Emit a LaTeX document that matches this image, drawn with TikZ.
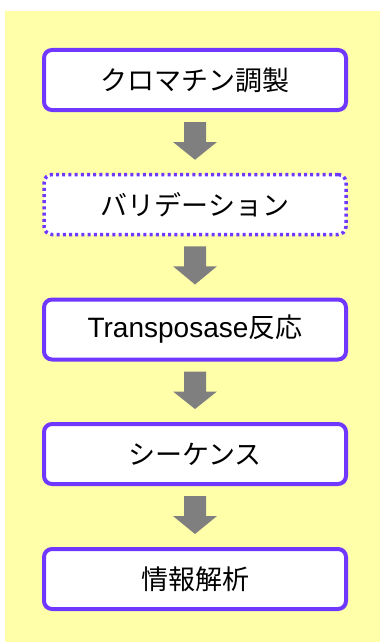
\documentclass[tikz,border=0pt]{standalone}
\usepackage{fontspec}
\setmainfont{Noto Sans CJK JP}
\newfontfamily\latinfont{Liberation Sans}
\usetikzlibrary{calc}
\definecolor{bgyellow}{RGB}{255,255,170}
\definecolor{boxpurple}{RGB}{112,56,255}
\definecolor{arrowgray}{RGB}{127,127,127}
\tikzset{
  stepbox/.style={draw=boxpurple, fill=white, line width=4pt, rounded corners=8pt,
    minimum width=302pt, minimum height=60pt, inner sep=0pt,
    font=\fontsize{27}{32}\selectfont, text=black},
  dotbox/.style={stepbox, line width=3.5pt, dash pattern=on 3pt off 3.2pt},
  blockarrow/.style={fill=arrowgray, draw=none}
}
\newcommand{\flowarrow}[2]{%
  \fill[blockarrow] ($(#1.south)+(-11,10)$) -- ($(#1.south)+(11,10)$)
    -- ($(#1.south)+(11,30)$) -- ($(#1.south)+(22,30)$)
    -- ($(#2.north)+(0,-13)$) -- ($(#1.south)+(-22,30)$)
    -- ($(#1.south)+(-11,30)$) -- cycle;}
\begin{document}
\begin{tikzpicture}[x=1pt,y=-1pt]
\useasboundingbox (0,0) rectangle (380,642);
\fill[bgyellow] (5,11) rectangle (380,642);
\node[stepbox] (n1) at (195,80) {クロマチン調製};
\node[dotbox] (n2) at (195,204.5) {バリデーション};
\node[stepbox] (n3) at (195,329.5) {{\latinfont\fontsize{28}{32}\selectfont Transposase}反応};
\node[stepbox] (n4) at (195,454) {シーケンス};
\node[stepbox] (n5) at (195,579) {情報解析};
\flowarrow{n1}{n2}
\flowarrow{n2}{n3}
\flowarrow{n3}{n4}
\flowarrow{n4}{n5}
\end{tikzpicture}
\end{document}
